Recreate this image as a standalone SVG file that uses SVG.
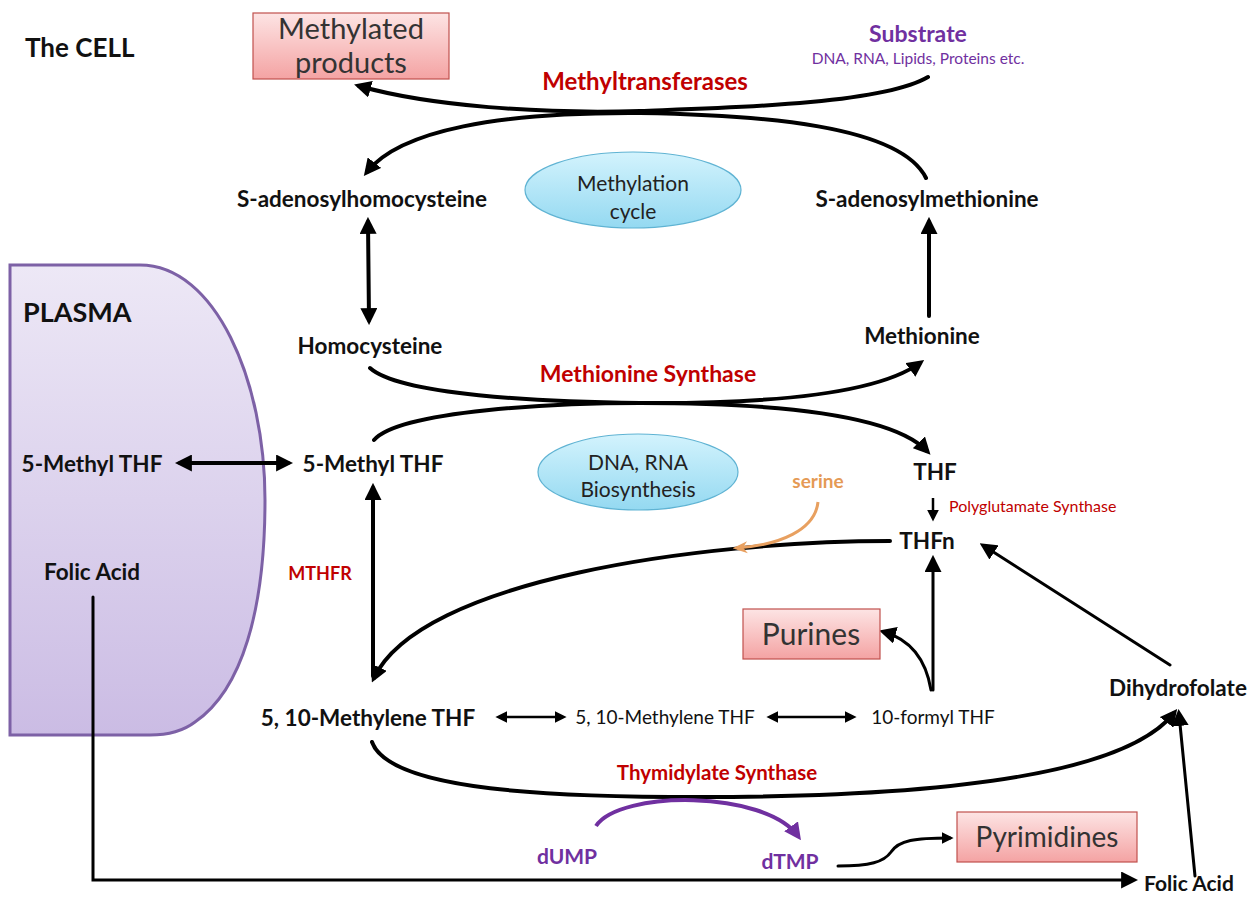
<svg xmlns="http://www.w3.org/2000/svg" width="1256" height="914" viewBox="0 0 1256 914">
<defs>
<marker id="ah" viewBox="0 0 10 10" refX="7" refY="5" markerWidth="17" markerHeight="17" markerUnits="userSpaceOnUse" orient="auto-start-reverse"><path d="M0,0 L10,5 L0,10 z" fill="#000"/></marker>
<marker id="ahs" viewBox="0 0 10 10" refX="7" refY="5" markerWidth="12" markerHeight="12" markerUnits="userSpaceOnUse" orient="auto-start-reverse"><path d="M0,0 L10,5 L0,10 z" fill="#000"/></marker>
<marker id="ahp" viewBox="0 0 10 10" refX="7" refY="5" markerWidth="17" markerHeight="17" markerUnits="userSpaceOnUse" orient="auto"><path d="M0,0 L10,5 L0,10 z" fill="#7030a0"/></marker>
<marker id="aho" viewBox="0 0 10 10" refX="7" refY="5" markerWidth="15" markerHeight="15" markerUnits="userSpaceOnUse" orient="auto"><path d="M0,1 L10,5 L0,9 L3,5 z" fill="#e8a060"/></marker>
<linearGradient id="gPlasma" x1="0" y1="0" x2="0" y2="1"><stop offset="0" stop-color="#ede8f6"/><stop offset="1" stop-color="#cbbce4"/></linearGradient>
<linearGradient id="gPink" x1="0" y1="0" x2="0" y2="1"><stop offset="0" stop-color="#fde4e4"/><stop offset="1" stop-color="#f4a3a3"/></linearGradient>
<linearGradient id="gBlue" x1="0" y1="0" x2="0" y2="1"><stop offset="0" stop-color="#d3f3fd"/><stop offset="1" stop-color="#94d9f1"/></linearGradient>
</defs>
<style>
text{font-family:Lato,"Liberation Sans",sans-serif;}
.b{font-weight:bold;fill:#111;font-size:22.5px;}
.r{font-weight:bold;fill:#c00000;font-size:23px;}
.n{fill:#111;font-size:19px;}
.box{fill:url(#gPink);stroke:#c0504d;stroke-width:1.2;}
.ell{fill:url(#gBlue);stroke:#5fb3d3;stroke-width:1.2;}
.bt{fill:#333;font-size:29px;}
.et{fill:#222;font-size:21px;}
.c{fill:none;stroke:#000;stroke-width:4;stroke-linecap:round;}
.t{fill:none;stroke:#000;stroke-width:2.5;}
</style>
<rect width="1256" height="914" fill="#fff"/>

<g id="plasma">
<path d="M10,265 H140 C215,265 265,380 265,500 C265,610 242,690 195,722 Q178,735 150,735 H10 Z" fill="url(#gPlasma)" stroke="#7d61a6" stroke-width="3"/>
<text x="23" y="322" class="b" style="font-size:27px">PLASMA</text>
</g>
<text x="25" y="57" class="b" style="font-size:26px">The CELL</text>

<g id="connectors">
<path class="c" d="M928,77 C880,105 720,108 640,111 C540,114 430,106 359,86" marker-end="url(#ah)"/>
<path class="c" d="M926,178 C900,125 760,115 640,113 C500,112 400,130 367,172" marker-end="url(#ah)"/>
<path class="c" d="M370,368 C400,395 540,402 640,403 C780,404 880,392 920,363" marker-end="url(#ah)"/>
<path class="c" d="M374,440 C400,410 560,403 640,403 C760,403 890,412 927,451" marker-end="url(#ah)"/>
<path class="c" d="M890,541 C700,541 420,580 374,678" marker-end="url(#ah)"/>
<path class="c" d="M372,742 C390,792 560,797 700,797 C900,797 1120,782 1174,713" marker-end="url(#ah)"/>
<path class="c" d="M368,222 L369,320" marker-start="url(#ah)" marker-end="url(#ah)"/>
<path class="c" d="M929,316 L929,222" marker-end="url(#ah)"/>
<path class="c" d="M373,676 L373,488" marker-end="url(#ah)"/>
<path class="c" d="M180,463 H288" marker-start="url(#ah)" marker-end="url(#ah)"/>
<path class="t" d="M499,717 H563" marker-start="url(#ahs)" marker-end="url(#ahs)"/>
<path class="t" d="M770,717 H853" marker-start="url(#ahs)" marker-end="url(#ahs)"/>
<path class="t" d="M933,498 L933,518" marker-end="url(#ahs)"/>
<path class="c" style="stroke-width:3" d="M933,690 L933,560" marker-end="url(#ah)"/>
<path class="c" style="stroke-width:3" d="M931,690 C926,660 912,640 884,632" marker-end="url(#ah)"/>
<path class="c" style="stroke-width:3" d="M1170,665 L984,546" marker-end="url(#ah)"/>
<path class="c" style="stroke-width:3" d="M1195,876 L1179,714" marker-end="url(#ah)"/>
<path class="c" style="stroke-width:3" d="M93,597 V880 H1133" marker-end="url(#ah)"/>
<path class="c" style="stroke-width:3" d="M838,866 C870,866 884,862 891,852 C899,840 915,838 950,838" marker-end="url(#ahs)"/>
<path fill="none" stroke="#e8a060" stroke-width="3" d="M818,502 C815,530 780,545 737,548" marker-end="url(#aho)"/>
<path fill="none" stroke="#7030a0" stroke-width="4" d="M596,826 C620,790 765,790 798,836" marker-end="url(#ahp)"/>
</g>

<g id="methylated-products"><rect class="box" x="253" y="13" width="196" height="66"/><text class="bt" x="351" y="39" text-anchor="middle">Methylated</text><text class="bt" x="351" y="73" text-anchor="middle">products</text></g>
<g id="substrate"><text x="918" y="42" text-anchor="middle" style="font-weight:bold;fill:#7030a0;font-size:23px">Substrate</text><text x="918" y="64" text-anchor="middle" style="fill:#7030a0;font-size:15.5px">DNA, RNA, Lipids,  Proteins etc.</text></g>
<text class="r" x="645" y="90" text-anchor="middle" style="font-size:24px">Methyltransferases</text>
<g id="sah"><text class="b" x="362" y="207" text-anchor="middle">S-adenosylhomocysteine</text></g>
<g id="methylation-cycle"><ellipse class="ell" cx="633" cy="190" rx="108" ry="38"/><text class="et" x="633" y="191" text-anchor="middle">Methylation</text><text class="et" x="633" y="219" text-anchor="middle">cycle</text></g>
<g id="sam"><text class="b" x="927" y="207" text-anchor="middle">S-adenosylmethionine</text></g>
<g id="homocysteine"><text class="b" x="370" y="354" text-anchor="middle">Homocysteine</text></g>
<g id="methionine"><text class="b" x="922" y="344" text-anchor="middle">Methionine</text></g>
<text class="r" x="648" y="382" text-anchor="middle">Methionine Synthase</text>
<g id="mthf-cell"><text class="b" x="373" y="472" text-anchor="middle">5-Methyl THF</text></g>
<g id="mthf-plasma"><text class="b" x="92" y="472" text-anchor="middle">5-Methyl THF</text></g>
<g id="folic-plasma"><text class="b" x="92" y="580" text-anchor="middle">Folic Acid</text></g>
<g id="dna-rna"><ellipse class="ell" cx="638" cy="472" rx="100" ry="38"/><text class="et" x="638" y="470" text-anchor="middle">DNA, RNA</text><text class="et" x="638" y="497" text-anchor="middle">Biosynthesis</text></g>
<g id="thf"><text class="b" x="935" y="480" text-anchor="middle">THF</text></g>
<g id="serine"><text x="818" y="488" text-anchor="middle" style="font-weight:bold;fill:#e59a55;font-size:19px">serine</text></g>
<text x="949" y="512" style="fill:#c00000;font-size:16px">Polyglutamate Synthase</text>
<g id="thfn"><text class="b" x="927" y="549" text-anchor="middle">THFn</text></g>
<text class="r" x="320" y="580" text-anchor="middle" style="font-size:18px">MTHFR</text>
<g id="purines"><rect class="box" x="743" y="609" width="137" height="50"/><text class="bt" x="811" y="645" text-anchor="middle" style="font-size:30px">Purines</text></g>
<g id="methylene-thf-1"><text class="b" x="368" y="726" text-anchor="middle">5, 10-Methylene THF</text></g>
<g id="methylene-thf-2"><text class="n" x="665" y="724" text-anchor="middle">5, 10-Methylene THF</text></g>
<g id="formyl-thf"><text class="n" x="933" y="724" text-anchor="middle">10-formyl THF</text></g>
<g id="dihydrofolate"><text class="b" x="1178" y="696" text-anchor="middle">Dihydrofolate</text></g>
<text class="r" x="717" y="780" text-anchor="middle" style="font-size:20.5px">Thymidylate Synthase</text>
<g id="dump"><text x="567" y="864" text-anchor="middle" style="font-weight:bold;fill:#7030a0;font-size:21px">dUMP</text></g>
<g id="dtmp"><text x="790" y="869" text-anchor="middle" style="font-weight:bold;fill:#7030a0;font-size:21px">dTMP</text></g>
<g id="pyrimidines"><rect class="box" x="957" y="812" width="180" height="50"/><text class="bt" x="1047" y="847" text-anchor="middle" style="font-size:28px">Pyrimidines</text></g>
<g id="folic-cell"><text class="b" x="1189" y="891" text-anchor="middle" style="font-size:21px">Folic Acid</text></g>
</svg>
